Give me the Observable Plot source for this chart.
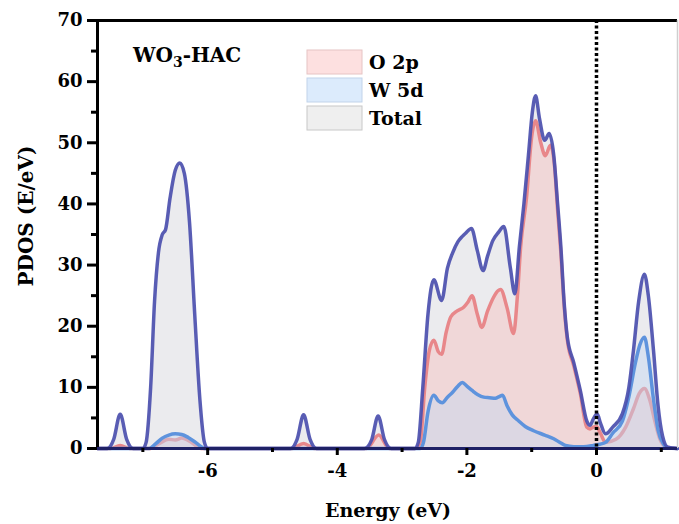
<!DOCTYPE html>
<html>
<head>
<meta charset="utf-8">
<script src="https://cdn.jsdelivr.net/npm/d3@7"></script>
<script src="https://cdn.jsdelivr.net/npm/@observablehq/plot@0.6"></script>
<style>
  body { margin: 0; background: #fff; }
</style>
</head>
<body>
<div id="chart"></div>
<script>
// ---- data ----
const seriesNames = ["O 2p", "W 5d", "Total"];

const totalE = [-7.7,-7.55,-7.45,-7.35,-7.25,-7.15,-7.0,-6.95,-6.88,-6.82,-6.76,-6.70,-6.65,-6.58,-6.50,-6.43,-6.36,-6.28,-6.20,-6.12,-6.05,-6.0,
  -4.72,-4.62,-4.52,-4.42,-4.32,-3.58,-3.47,-3.37,-3.27,-3.17,
  -2.8,-2.75,-2.68,-2.6,-2.51,-2.39,-2.3,-2.22,-2.14,-2.07,-2.02,-1.93,-1.84,-1.75,-1.68,-1.6,-1.51,-1.43,-1.33,-1.26,-1.19,-1.12,-1.05,-0.99,-0.94,-0.88,-0.8,-0.73,-0.66,-0.6,-0.55,-0.5,-0.45,-0.35,-0.25,-0.15,-0.1,-0.05,0.01,0.06,0.14,0.25,0.4,0.5,0.57,0.65,0.74,0.8,0.88,0.95,1.02,1.1,1.25];
const totalV = [0,0,1.5,5.6,1.5,0,0,1,10,24,32,35,35.8,41,45.5,46.7,45,37,22,8,1,0,
  0,1.5,5.5,1.5,0,0,1.4,5.3,1.4,0,
  0,1,10,22,27.6,24.2,29.5,32,33.8,34.7,35.2,36,32.4,29.1,31.5,34,35.4,36.3,29.6,25.3,33,40,48,55,57.7,54,50.4,51.5,48,40,33,24,18.2,14,9.5,4.5,3.8,4.8,5.7,4.2,2.4,3.5,5.7,10,16,24,28.5,25,16,7,2,0.2,0];

const o2pE = [-7.7,-7.5,-7.35,-7.2,-6.9,-6.75,-6.6,-6.5,-6.4,-6.25,-6.1,
  -4.7,-4.52,-4.35,-3.55,-3.36,-3.2,
  -2.8,-2.72,-2.65,-2.58,-2.51,-2.44,-2.39,-2.32,-2.25,-2.15,-2.05,-1.98,-1.92,-1.84,-1.77,-1.68,-1.59,-1.52,-1.48,-1.38,-1.28,-1.22,-1.17,-1.08,-1.0,-0.94,-0.86,-0.79,-0.71,-0.65,-0.6,-0.55,-0.5,-0.45,-0.35,-0.25,-0.15,-0.1,-0.05,0.0,0.06,0.14,0.3,0.45,0.57,0.66,0.74,0.82,0.9,0.98,1.08,1.25];
const o2pV = [0,0,0.5,0,0,0.8,1.5,1.4,1.7,1,0,
  0,0.8,0,0,2.2,0,
  0,1,10,16,17.7,15.8,15.4,19,21.5,22.5,23.1,24,25,22,19.8,22.5,24.7,25.8,26,23,18.8,25,33,41,51,53.6,50,47.9,49.6,46.5,39,32,23.5,17.8,13.5,9,3.5,3.2,3.5,3.6,2.5,1,1.5,3.5,6.5,9,9.8,8,4.5,1.5,0.2,0];

const w5dE = [-7.7,-6.9,-6.8,-6.7,-6.6,-6.5,-6.4,-6.3,-6.2,-6.1,-6.05,
  -2.72,-2.67,-2.6,-2.51,-2.44,-2.38,-2.3,-2.22,-2.14,-2.07,-2.0,-1.92,-1.83,-1.74,-1.65,-1.56,-1.5,-1.45,-1.38,-1.3,-1.2,-1.1,-0.97,-0.8,-0.66,-0.55,-0.48,-0.35,-0.2,-0.05,0.05,0.14,0.25,0.4,0.5,0.6,0.67,0.74,0.8,0.88,0.95,1.03,1.1,1.25];
const w5dV = [0,0,0.8,1.7,2.2,2.4,2.3,1.8,1.1,0.3,0,
  0,1,6,8.7,7.8,7.5,8.4,9.2,10.2,10.8,10.2,9.5,8.8,8.4,8.3,8.2,8.5,8.7,7,5.5,4.5,3.6,2.9,2.2,1.6,0.9,0.5,0.3,0.3,0.5,0.7,1,2.5,4.5,8.5,14,17,18.2,15,8,3,0.8,0.1,0];

const xDomain = [-7.7, 1.25];
const yDomain = [0, 70];
const xMajorTicks = [-6, -4, -2, 0];
const xMinorTicks = [-7, -5, -3, -1, 1];
const yMajorTicks = [0, 10, 20, 30, 40, 50, 60, 70];
const yMinorTicks = [5, 15, 25, 35, 45, 55, 65];
const fermiLevel = [0];

const zip = (E, V) => E.map((e, i) => ({e, v: V[i]}));
const total = zip(totalE, totalV);
const o2p = zip(o2pE, o2pV);
const w5d = zip(w5dE, w5dV);

const FONT = "DejaVu Serif";
const curve = "monotone-x";

const plot = Plot.plot({
  width: 679,
  height: 524,
  marginLeft: 97,
  marginRight: 2,
  marginTop: 20,
  marginBottom: 76,
  style: {fontFamily: FONT, fontSize: "18px", fontWeight: "bold", color: "#000", background: "#fff"},
  x: {domain: xDomain},
  y: {domain: yDomain},
  marks: [
    Plot.areaY(total, {x: "e", y: "v", fill: "#e8e8eb", fillOpacity: 0.85, curve}),
    Plot.areaY(o2p, {x: "e", y: "v", fill: "#f4c6c6", fillOpacity: 0.55, curve}),
    Plot.lineY(o2p, {x: "e", y: "v", stroke: "#e8878a", strokeWidth: 3.5, curve}),
    Plot.areaY(w5d, {x: "e", y: "v", fill: "#c4d6f2", fillOpacity: 0.45, curve}),
    Plot.lineY(w5d, {x: "e", y: "v", stroke: "#5e93dd", strokeWidth: 3.5, curve}),
    Plot.lineY(total, {x: "e", y: "v", stroke: "#4b4fae", strokeWidth: 3.5, strokeOpacity: 0.92, curve}),
    Plot.ruleX(fermiLevel, {stroke: "#000", strokeWidth: 3.5, strokeDasharray: "3,2.5"}),
    Plot.ruleY([yDomain[1]], {stroke: "#000", strokeWidth: 3}),
    Plot.ruleX([xDomain[1]], {stroke: "#cfcfcf", strokeWidth: 1.5}),
    Plot.ruleX([xDomain[0]], {stroke: "#000", strokeWidth: 3}),
    Plot.ruleY([0], {stroke: "#1f2166", strokeWidth: 3}),
    Plot.axisY({ticks: yMajorTicks, tickSize: 10, tickPadding: 5, strokeWidth: 3, label: null, tickFormat: d => String(d)}),
    Plot.axisY({ticks: yMinorTicks, tickSize: 6, strokeWidth: 3, label: null, tickFormat: () => ""}),
    Plot.axisX({ticks: xMajorTicks, tickSize: 7, tickPadding: 9, strokeWidth: 3, label: null, tickFormat: d => String(d)}),
    Plot.axisX({ticks: xMinorTicks, tickSize: 4, strokeWidth: 3, label: null, tickFormat: () => ""})
  ]
});

document.getElementById("chart").appendChild(plot);

const svg = d3.select(plot);

// Axis titles
svg.append("text")
  .attr("transform", "translate(33,216) rotate(-90)")
  .attr("text-anchor", "middle")
  .attr("font-family", FONT).attr("font-weight", "bold").attr("font-size", 20)
  .text("PDOS (E/eV)");

svg.append("text")
  .attr("x", 388).attr("y", 517)
  .attr("text-anchor", "middle")
  .attr("font-family", FONT).attr("font-weight", "bold").attr("font-size", 19)
  .text("Energy (eV)");

// Sample title
const t = svg.append("text")
  .attr("x", 133).attr("y", 62)
  .attr("text-anchor", "start")
  .attr("font-family", FONT).attr("font-weight", "bold").attr("font-size", 20);
t.append("tspan").text("WO");
t.append("tspan").attr("font-size", 14).attr("dy", 5).text("3");
t.append("tspan").attr("dy", -5).text("-HAC");

// Legend
const legendFill = ["#fde0e0", "#dcebfc", "#efefef"];
const legendStroke = ["#e6c4c4", "#c2d3ea", "#c8c8c8"];
const lg = svg.append("g").attr("transform", "translate(307,50)");
seriesNames.forEach((name, i) => {
  lg.append("rect").attr("x", 0).attr("y", i * 28).attr("width", 55).attr("height", 24)
    .attr("fill", legendFill[i]).attr("stroke", legendStroke[i]).attr("stroke-width", 1);
  lg.append("text").attr("x", 62).attr("y", i * 28 + 19)
    .attr("text-anchor", "start")
    .attr("font-family", FONT).attr("font-weight", "bold").attr("font-size", 19)
    .text(name);
});
</script>
</body>
</html>
